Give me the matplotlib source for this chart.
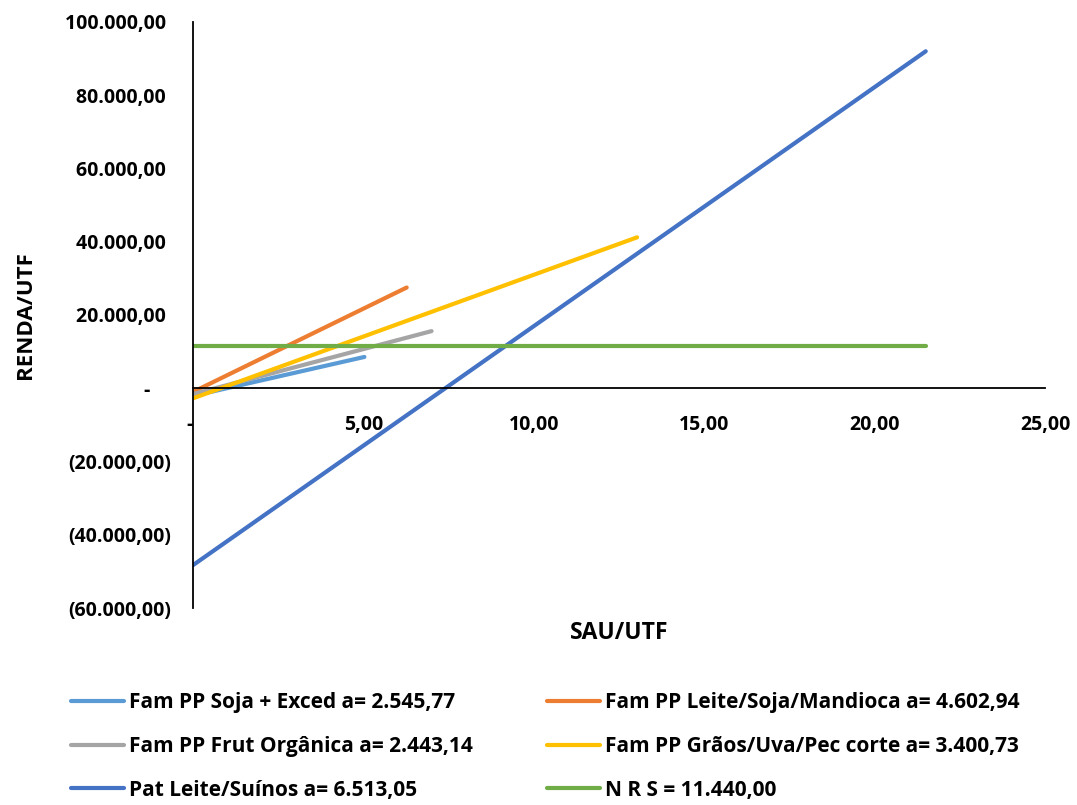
import matplotlib
matplotlib.use("Agg")
import matplotlib.pyplot as plt

plt.rcParams['font.family'] = ['Open Sans', 'DejaVu Sans']
plt.rcParams['font.weight'] = 'bold'

# DATA (start and end of each straight line)
labels = ["Fam PP Soja + Exced a= 2.545,77",
          "Fam PP Leite/Soja/Mandioca a= 4.602,94",
          "Fam PP Frut Orgânica a= 2.443,14",
          "Fam PP Grãos/Uva/Pec corte a= 3.400,73",
          "Pat Leite/Suínos a= 6.513,05",
          "N R S = 11.440,00"]
colours = ["#5B9BD5", "#ED7D31", "#A5A5A5", "#FFC000", "#4472C4", "#70AD47"]
x_start = [0, 0, 0, 0, 0, 0]
x_end = [5.03, 6.27, 7.0, 13.03, 21.5, 21.5]
y_start = [-2100, -1000, -1600, -2750, -48300, 11440]
y_end = [8550, 27500, 15600, 41200, 92000, 11440]

x_ticks = [0, 5, 10, 15, 20, 25]
x_ticklabels = ["- ", "5,00", "10,00", "15,00", "20,00", "25,00"]
y_ticks = [-60000, -40000, -20000, 0, 20000, 40000, 60000, 80000, 100000]
y_ticklabels = ["(60.000,00)", "(40.000,00)", "(20.000,00)", "-    ",
                "20.000,00 ", "40.000,00 ", "60.000,00 ", "80.000,00 ", "100.000,00 "]

# PLOT
fig = plt.figure(figsize=(10.77, 8.05), dpi=100)
ax = fig.add_axes([0.1792, 0.2447, 0.7911, 0.728])

handles = []
for i in range(len(labels)):
    line, = ax.plot([x_start[i], x_end[i]], [y_start[i], y_end[i]],
                    color=colours[i], linewidth=3, solid_capstyle='round',
                    label=labels[i])
    handles.append(line)

ax.set_xlim(0, 25)
ax.set_ylim(-60000, 100000)
ax.spines['top'].set_visible(False)
ax.spines['right'].set_visible(False)
ax.spines['bottom'].set_position(('data', 0))
ax.spines['left'].set_linewidth(1.3)
ax.spines['bottom'].set_linewidth(1.3)

ax.set_xticks(x_ticks)
ax.set_xticklabels(x_ticklabels, fontsize=14, fontweight='bold')
ax.set_yticks(y_ticks)
ax.set_yticklabels(y_ticklabels, fontsize=14, fontweight='bold')
ax.tick_params(axis='x', length=0, pad=19)
ax.tick_params(axis='y', length=0, pad=16)

fig.text(0.575, 0.214, "SAU/UTF", ha='center', va='center', fontsize=16.5, fontweight='bold')
fig.text(0.024, 0.609, "RENDA/UTF", ha='center', va='center', rotation=90,
         fontsize=16, fontweight='bold')

order = [0, 2, 4, 1, 3, 5]
fig.legend([handles[i] for i in order], [labels[i] for i in order],
           ncol=2, loc='center', bbox_to_anchor=(0.5065, 0.0727), frameon=False,
           handlelength=2.55, handletextpad=0.25, columnspacing=3.55,
           labelspacing=1.09, prop={'weight': 'bold', 'size': 15})

fig.savefig("out.png", dpi=100)
